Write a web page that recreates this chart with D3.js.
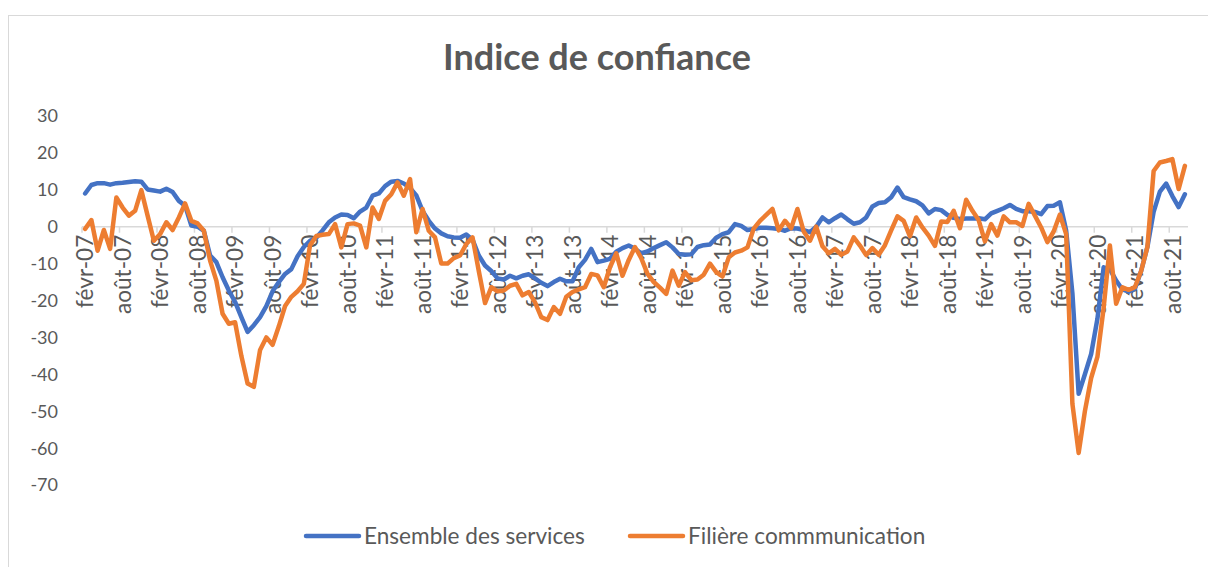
<!DOCTYPE html>
<html>
<head>
<meta charset="utf-8">
<script src="https://cdn.jsdelivr.net/npm/d3@7"></script>
<style>
  html, body { margin: 0; padding: 0; background: #fff; }
  svg { display: block; font-family: Lato, "Open Sans", sans-serif; }
</style>
</head>
<body>
<svg id="chart" width="1208" height="567"></svg>
<script>
// Monthly series, févr-07 .. oct-21
const monthNames = ['janv', 'févr', 'mars', 'avr', 'mai', 'juin', 'juil', 'août', 'sept', 'oct', 'nov', 'déc'];
const startYear = 2007, startMonth = 1, monthCount = 177;

const ensembleServices = [
  9, 11.3, 11.8, 11.8, 11.4, 11.8, 11.9, 12.1, 12.3, 12.2, 10.1, 9.8,
  9.5, 10.3, 9.4, 7, 5.7, 0.3, 0, -1.1, -7.8, -9.6, -13.7, -17.3,
  -20.4, -24.5, -28.5, -26.7, -24.5, -21.5, -17.5, -15, -12.8, -11.5, -8, -5.5,
  -3.8, -3, -1, 1.2, 2.5, 3.3, 3.2, 2.3, 4.1, 5.2, 8.4, 9,
  11, 12.2, 12.4, 11.7, 10.5, 8.5, 4.3, 1.6, -0.5, -1.8, -2.6, -2.9,
  -3, -2.1, -3.5, -7.8, -10.5, -12, -14, -14.3, -13.3, -14, -13.3, -12.9,
  -14, -15.2, -16.1, -15, -14.1, -14.8, -14.8, -11, -9, -6, -9.6, -9.2,
  -8.7, -6.8, -5.8, -5.1, -6, -7.2, -6.7, -5.8, -5, -4.2, -5.6, -7.4,
  -7.6, -7.5, -5.5, -5, -4.8, -3, -2, -1.5, 0.7, 0.2, -0.9, -0.6,
  -0.3, -0.3, -0.4, -0.6, -1.1, -0.4, -0.5, -0.9, -1.5, 0, 2.5, 1.2,
  2.3, 3.3, 2, 0.8, 1.2, 2.5, 5.5, 6.4, 6.6, 8, 10.6, 8,
  7.4, 6.9, 5.8, 3.6, 4.8, 4.5, 3.2, 2.4, 2.1, 2.2, 2.2, 2.3,
  2, 3.6, 4.3, 5, 5.9, 4.8, 4.2, 4.2, 4, 3.4, 5.6, 5.7,
  6.6, -1, -18, -45.3, -40, -34.5, -25, -11, -11.5, -14.6, -17, -17.6,
  -16.8, -12, -5.5, 4, 9.5, 11.7, 8.3, 5.3, 8.8
];

const filiereCommunication = [
  -0.6, 1.8, -6.5, -0.9, -6, 7.9, 5.2, 3, 4.3, 9.9, 3, -3.8,
  -2, 1.2, -0.9, 2.5, 6.3, 1.6, 0.9, -1.1, -9.2, -14.6, -23.6, -26.3,
  -25.9, -35, -42.5, -43.4, -33.4, -30, -32, -27, -21.5, -19, -17.5, -15.5,
  -5, -2.5, -2.2, -2, 0.7, -5.6, 0.7, 0.9, 0.3, -5.6, 5.2, 2.1,
  7, 8.8, 12, 8.4, 12.9, -1.5, 4.8, -1.1, -2.9, -10, -10, -8.5,
  -7.8, -4.7, -2.9, -12, -20.7, -16.4, -17.5, -17.3, -16, -15.5, -18.6, -17.7,
  -20.5, -24.5, -25.3, -21.8, -23.6, -19, -17.7, -17, -16.4, -12.8, -13.2, -16.4,
  -11, -7.2, -13.3, -9, -5.5, -8.5, -12.8, -15, -16.5, -18.2, -11.9, -16,
  -12.3, -14.5, -14.3, -13, -10, -12.3, -13.5, -8.3, -7, -6.5, -5.6, -0.5,
  1.6, 3.2, 4.8, -1, 1.6, -0.4, 4.8, -1.3, -3.8, 0, -5.3, -7.2,
  -6, -7.6, -6.7, -2.9, -5.1, -7.7, -5.8, -7.6, -5, -1, 2.8, 1.6,
  -2.6, 2.5, -0.2, -2.4, -5.2, 1.4, 1.3, 4.3, -0.4, 7.3, 4.3, 1.8,
  -4, 0.7, -2.4, 2.8, 1.2, 1.2, 0.2, 6.2, 3, -0.2, -4.2, -1.3,
  3.3, -2, -48, -61.3, -50, -41, -35.3, -22, -5.1, -20.9, -16.4, -17.1,
  -16.4, -12, -5.5, 15.1, 17.4, 17.8, 18.3, 10.2, 16.5
];

const yTicks = [30, 20, 10, 0, -10, -20, -30, -40, -50, -60, -70];
const labelEvery = 6;

const seriesList = [
  { name: 'Ensemble des services', values: ensembleServices, color: '#4472C4' },
  { name: 'Filière commmunication', values: filiereCommunication, color: '#ED7D31' }
];

// Category labels like "févr-07"
const categories = d3.range(monthCount).map(i => {
  const m = (startMonth + i) % 12;
  const y = startYear + Math.floor((startMonth + i) / 12);
  return monthNames[m] + '-' + String(y % 100).padStart(2, '0');
});

const svg = d3.select('#chart');
const textColor = '#595959';

// Chart frame
svg.append('rect')
  .attr('x', 8.5).attr('y', 15.5)
  .attr('width', 1215).attr('height', 570)
  .attr('fill', 'none')
  .attr('stroke', '#d9d9d9')
  .attr('stroke-width', 1);

// Title
svg.append('text')
  .attr('x', 597).attr('y', 70)
  .attr('text-anchor', 'middle')
  .attr('font-size', '36px')
  .attr('font-weight', 700)
  .attr('fill', textColor)
  .text('Indice de confiance');

const x = d3.scaleBand()
  .domain(categories)
  .range([82, 1188])
  .padding(0);

const y = d3.scaleLinear()
  .domain([-70, 30])
  .range([485, 116]);

const cx = c => x(c) + x.bandwidth() / 2;

// Y labels (no axis line)
svg.append('g')
  .selectAll('text')
  .data(yTicks)
  .enter()
  .append('text')
  .attr('x', 58)
  .attr('y', d => y(d))
  .attr('dy', '0.36em')
  .attr('text-anchor', 'end')
  .attr('font-size', '18px')
  .attr('fill', textColor)
  .text(d => d);

// Category axis at zero
const labelled = categories.filter((c, i) => i % labelEvery === 0);

svg.append('line')
  .attr('x1', x.range()[0]).attr('x2', x.range()[1])
  .attr('y1', y(0)).attr('y2', y(0))
  .attr('stroke', '#d9d9d9')
  .attr('stroke-width', 1.5);

svg.append('g')
  .selectAll('line')
  .data(labelled)
  .enter()
  .append('line')
  .attr('x1', d => x(d)).attr('x2', d => x(d))
  .attr('y1', y(0)).attr('y2', y(0) + 6)
  .attr('stroke', '#d9d9d9')
  .attr('stroke-width', 1.5);

svg.append('g')
  .selectAll('text')
  .data(labelled)
  .enter()
  .append('text')
  .attr('transform', d => `translate(${cx(d)},${y(0) + 8}) rotate(-90)`)
  .attr('text-anchor', 'end')
  .attr('dy', '0.36em')
  .attr('font-size', '22.6px')
  .attr('fill', textColor)
  .text(d => d);

// Lines
const line = d3.line()
  .x((d, i) => cx(categories[i]))
  .y(d => y(d));

svg.append('g')
  .selectAll('path')
  .data(seriesList)
  .enter()
  .append('path')
  .attr('d', d => line(d.values))
  .attr('fill', 'none')
  .attr('stroke', d => d.color)
  .attr('stroke-width', 4.5)
  .attr('stroke-linejoin', 'round')
  .attr('stroke-linecap', 'round');

// Legend
const legendX = [306, 630];
const legend = svg.append('g')
  .selectAll('g')
  .data(seriesList)
  .enter()
  .append('g')
  .attr('transform', (d, i) => `translate(${legendX[i]},536)`);

legend.append('line')
  .attr('x1', 0).attr('x2', 53)
  .attr('stroke', d => d.color)
  .attr('stroke-width', 4.5)
  .attr('stroke-linecap', 'round');

legend.append('text')
  .attr('x', 58)
  .attr('dy', '0.36em')
  .attr('font-size', '22.6px')
  .attr('fill', textColor)
  .text(d => d.name);
</script>
</body>
</html>
